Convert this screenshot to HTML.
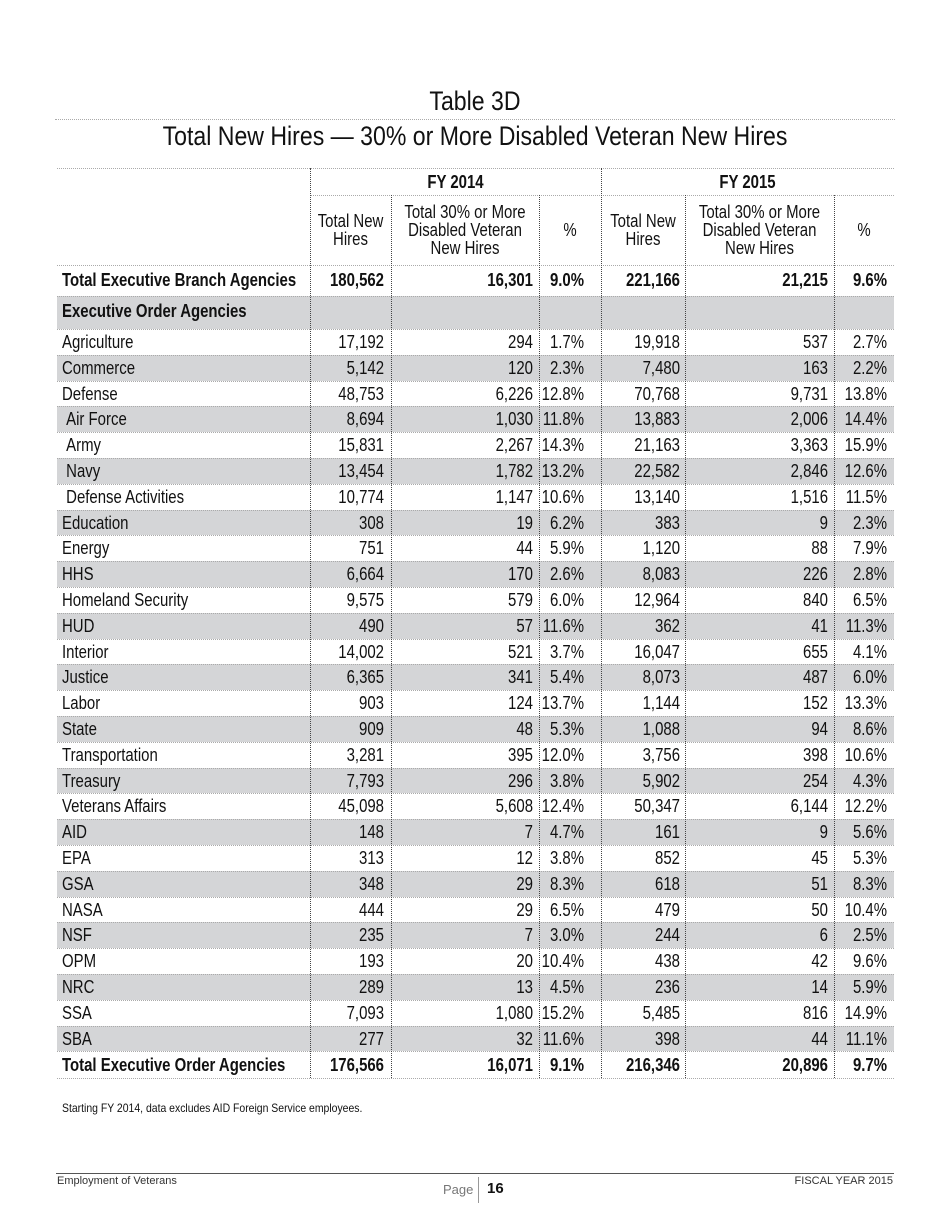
<!DOCTYPE html>
<html><head><meta charset="utf-8">
<style>
body{margin:0;width:950px;height:1230px;background:#fff;position:relative;font-family:"Liberation Sans",sans-serif;color:#111;overflow:hidden}
.abs{position:absolute}
.hl{position:absolute;border-top:1px dotted #aaa;height:0}
.vl{position:absolute;border-left:1px dotted #444;width:0}
.cell{position:absolute;font-size:18px;line-height:18px;white-space:nowrap;transform:scaleX(0.83);transform-origin:left center}
.r{text-align:right;transform-origin:right center}
.c{text-align:center;transform-origin:center center}
.b{font-weight:bold}
.shade{position:absolute;background:#d4d5d7}
.nar{transform:scaleX(0.855);transform-origin:center center}
</style></head>
<body>
<div class="abs c nar" style="left:0;width:950px;top:86px;font-size:27px;line-height:30px">Table 3D</div>
<div class="hl" style="left:55px;width:840px;top:119px"></div>
<div class="abs c nar" style="left:0;width:950px;top:120px;font-size:27px;line-height:32px">Total New Hires — 30% or More Disabled Veteran New Hires</div>
<div id="tbl"></div>
<div class="abs" style="left:62px;top:1101px;font-size:12px;transform:scaleX(0.87);transform-origin:left center">Starting FY 2014, data excludes AID Foreign Service employees.</div>
<div class="abs" style="left:56px;width:838px;top:1173px;border-top:1px solid #555"></div>
<div class="abs" style="left:57px;top:1175px;font-size:11px;color:#333">Employment of Veterans</div>
<div class="abs" style="right:57px;top:1175px;font-size:11px;color:#333">FISCAL YEAR 2015</div>
<div class="abs" style="left:443px;top:1182px;font-size:13px;color:#777">Page</div>
<div class="abs" style="left:478px;top:1177px;height:26px;border-left:1px solid #999"></div>
<div class="abs b" style="left:487px;top:1180px;font-size:15px">16</div>
<script>
const agencies=["Agriculture","Commerce","Defense"," Air Force"," Army"," Navy"," Defense Activities","Education","Energy","HHS","Homeland Security","HUD","Interior","Justice","Labor","State","Transportation","Treasury","Veterans Affairs","AID","EPA","GSA","NASA","NSF","OPM","NRC","SSA","SBA"];
const hires2014=["17,192","5,142","48,753","8,694","15,831","13,454","10,774","308","751","6,664","9,575","490","14,002","6,365","903","909","3,281","7,793","45,098","148","313","348","444","235","193","289","7,093","277"];
const vets2014=["294","120","6,226","1,030","2,267","1,782","1,147","19","44","170","579","57","521","341","124","48","395","296","5,608","7","12","29","29","7","20","13","1,080","32"];
const pct2014=["1.7%","2.3%","12.8%","11.8%","14.3%","13.2%","10.6%","6.2%","5.9%","2.6%","6.0%","11.6%","3.7%","5.4%","13.7%","5.3%","12.0%","3.8%","12.4%","4.7%","3.8%","8.3%","6.5%","3.0%","10.4%","4.5%","15.2%","11.6%"];
const hires2015=["19,918","7,480","70,768","13,883","21,163","22,582","13,140","383","1,120","8,083","12,964","362","16,047","8,073","1,144","1,088","3,756","5,902","50,347","161","852","618","479","244","438","236","5,485","398"];
const vets2015=["537","163","9,731","2,006","3,363","2,846","1,516","9","88","226","840","41","655","487","152","94","398","254","6,144","9","45","51","50","6","42","14","816","44"];
const pct2015=["2.7%","2.2%","13.8%","14.4%","15.9%","12.6%","11.5%","2.3%","7.9%","2.8%","6.5%","11.3%","4.1%","6.0%","13.3%","8.6%","10.6%","4.3%","12.2%","5.6%","5.3%","8.3%","10.4%","2.5%","9.6%","5.9%","14.9%","11.1%"];
const totalBranch=["Total Executive Branch Agencies","180,562","16,301","9.0%","221,166","21,215","9.6%"];
const totalOrder=["Total Executive Order Agencies","176,566","16,071","9.1%","216,346","20,896","9.7%"];

const T=document.getElementById('tbl');
const L=57,R=894;
const vx=[310,391,539,601,685,834];
const rights=[384,533,584,680,828,887];
function add(cls,style,text,name){const d=document.createElement('div');d.className=cls;d.style.cssText=style;if(text!==undefined)d.textContent=text;


T.appendChild(d);return d;}
function hline(y){add('hl','left:'+L+'px;width:'+(R-L)+'px;top:'+y+'px','','row-rule');}
function vline(x,y0,y1){add('vl','left:'+x+'px;top:'+y0+'px;height:'+(y1-y0)+'px','','column-rule');}
function rowCells(vals,yc,bold){
  add('cell'+(bold?' b':''),'left:62px;top:'+(yc-9)+'px',vals[0].replace(/^ /,'\u00a0'),'row-label');
  for(let i=1;i<7;i++){add('cell r'+(bold?' b':''),'left:'+(rights[i-1]-120)+'px;width:120px;top:'+(yc-9)+'px',vals[i],'cell-value');}
}
const yTop=168,yFY=195,yHead=265,yTB=296,yEO=326,y0=329,rh=25.8;
const n=agencies.length;
const yLastTop=y0+n*rh, yEnd=yLastTop+27;
add('shade','left:'+L+'px;width:'+(R-L)+'px;top:'+yTB+'px;height:'+(yEO-yTB+3)+'px',undefined,'section-shade');
for(let i=0;i<n;i++){if(i%2===1)add('shade','left:'+L+'px;width:'+(R-L)+'px;top:'+(y0+i*rh)+'px;height:'+rh+'px',undefined,'row-shade');}
[yTop,yHead,yTB,y0].forEach(hline);
add('hl','left:'+vx[0]+'px;width:'+(R-vx[0])+'px;top:'+yFY+'px','','fy-rule');
for(let i=1;i<=n;i++)hline(y0+i*rh);
hline(yEnd);
vline(vx[0],yTop,yEnd);vline(vx[3],yTop,yEnd);
[1,2,4,5].forEach(k=>vline(vx[k],yFY,yEnd));
add('cell c b','left:'+vx[0]+'px;width:'+(vx[3]-vx[0])+'px;top:173px','FY 2014','fy2014-header');
add('cell c b','left:'+vx[3]+'px;width:'+(R-vx[3])+'px;top:173px','FY 2015','fy2015-header');
const hdr=["Total New<br>Hires","Total 30% or More<br>Disabled Veteran<br>New Hires","%"];
const edges=[vx[0],vx[1],vx[2],vx[3],vx[4],vx[5],R];
for(let k=0;k<6;k++){const h=hdr[k%3];const lines=h.split('<br>').length;
 const d=add('cell c','left:'+(edges[k]-20)+'px;width:'+(edges[k+1]-edges[k]+40)+'px;top:'+(230-lines*9)+'px',undefined,'column-header');d.innerHTML=h;}
rowCells(totalBranch,280,true);
add('cell b','left:62px;top:'+(311-9)+'px','Executive Order Agencies','section-label');
for(let i=0;i<n;i++){rowCells([agencies[i],hires2014[i],vets2014[i],pct2014[i],hires2015[i],vets2015[i],pct2015[i]],y0+i*rh+rh/2,false);}
rowCells(totalOrder,yLastTop+13.5,true);
</script>
</body></html>
